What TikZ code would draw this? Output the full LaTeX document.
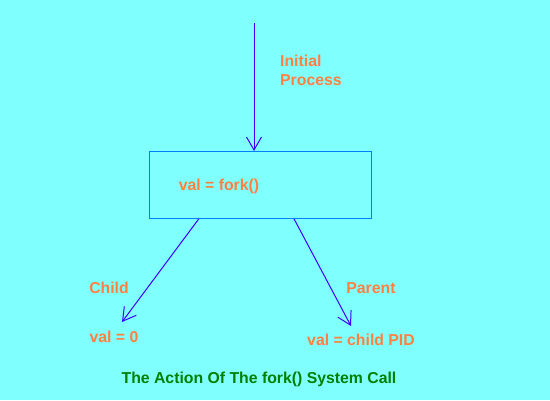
\documentclass[tikz,border=0pt]{standalone}
\usepackage{fontspec}
\setmainfont{Liberation Sans}
\usepackage{xcolor}
\usetikzlibrary{calc}
\usetikzlibrary{arrows.meta}
\definecolor{bgcyan}{HTML}{80FFFF}
\definecolor{txtorange}{HTML}{FF8040}
\definecolor{arrowblue}{HTML}{4000FF}
\definecolor{boxblue}{HTML}{0080FF}
\definecolor{titlegreen}{HTML}{008000}
\tikzset{>={Straight Barb[length=13pt,width=15pt]}}
\tikzstyle{txt} = [text=txtorange, font=\fontsize{15.8}{19}\selectfont\bfseries, inner sep=0pt]
\tikzstyle{proc} = [rectangle, draw=boxblue, line width=1pt, minimum width=222pt, minimum height=67pt]
\tikzstyle{arrow} = [draw=arrowblue, line width=1pt, ->]

\begin{document}
\begin{tikzpicture}[x=1pt, y=-1pt]
    \fill[bgcyan] (0,0) rectangle (550,400);
    \useasboundingbox (0,0) rectangle (550,400);

    \node[proc] (fork) at (260,185) {};
    \node[txt] (forktxt) at (219,186) {val = fork()};
    \node[txt, anchor=west, align=left] (initial) at (280,70) {Initial\\Process};

    \node[txt] (childlbl) at (109,288) {Child};
    \node[txt] (childval) at (114,337) {val = 0};
    \node[txt] (parentlbl) at (371,288) {Parent};
    \node[txt] (parentval) at (361,340) {val = child PID};

    \node[txt, text=titlegreen] (title) at (259,379) {The Action Of The fork() System Call};

    \coordinate (start) at (254,23);
    \coordinate (childtip) at (122,322);
    \coordinate (parenttip) at (351,326);

    % arrows
    \draw[arrow] (start) -- (start |- fork.north);
    \draw[arrow] ($(fork.south west)!0.225!(fork.south east)$) -- (childtip);
    \draw[arrow] ($(fork.south west)!0.653!(fork.south east)$) -- (parenttip);
\end{tikzpicture}
\end{document}
